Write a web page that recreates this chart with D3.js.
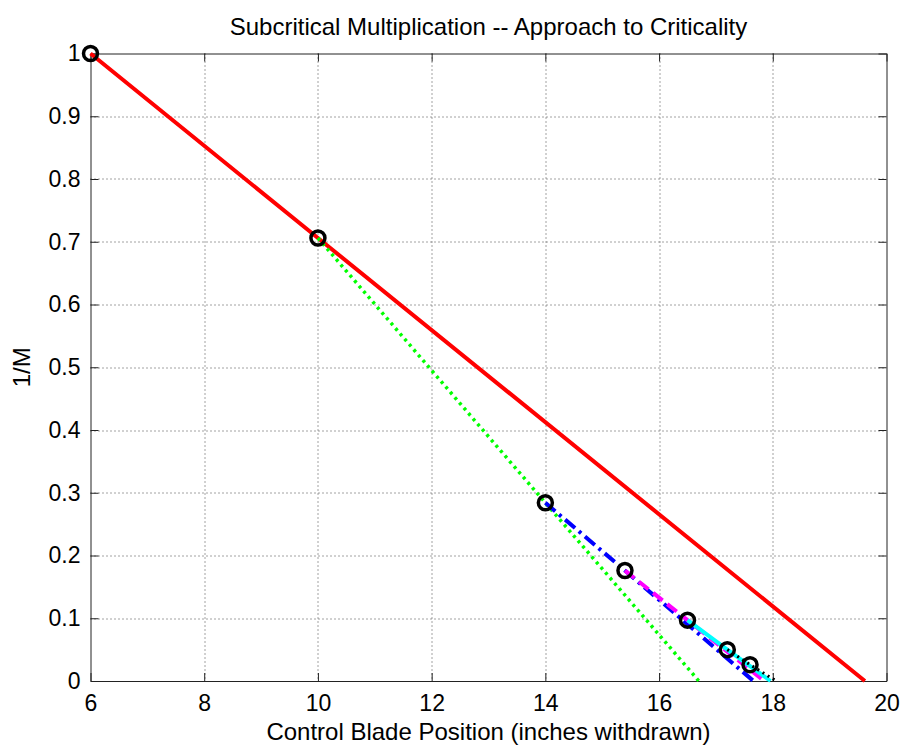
<!DOCTYPE html>
<html>
<head>
<meta charset="utf-8">
<script src="https://cdn.jsdelivr.net/npm/d3@7"></script>
<style>
  body { margin: 0; background: #fff; }
  svg { display: block; }
  .axis text { font-family: "Liberation Sans", Arial, sans-serif; font-size: 23px; fill: #000; }
  .axis path, .axis line { stroke: #222; }
</style>
</head>
<body>
<div id="chart"></div>
<script>
// blade position (inches withdrawn) and measured 1/M
var positions = [6, 10, 14, 15.4, 16.5, 17.2, 17.6];
var inverseM = [1.0, 0.706, 0.284, 0.176, 0.097, 0.050, 0.026];
// estimated critical position from each extrapolation (x where 1/M = 0)
var criticalEstimates = [19.62, 16.7, 17.66, 17.85, 17.96, 18.06];
var xTicks = [6, 8, 10, 12, 14, 16, 18, 20];
var yTicks = [0, 0.1, 0.2, 0.3, 0.4, 0.5, 0.6, 0.7, 0.8, 0.9, 1];

// line style for each extrapolation step (matlab r-, g:, b-., m--, c-, k:)
var lineColors = ["#ff0000", "#00ff00", "#0000ff", "#ff00ff", "#00ffff", "#000000"];
var lineDash = [null, "3,4", "13,5,3,5", "12,6", null, "2,4"];
var lineWidth = [4, 3.5, 4, 4, 4, 3];

var W = 901, H = 749;
var margin = { top: 53.5, right: 14.5, bottom: 68, left: 90.5 };
var width = W - margin.left - margin.right;
var height = H - margin.top - margin.bottom;

var svg = d3.select("#chart").append("svg")
    .attr("width", W)
    .attr("height", H);

var g = svg.append("g").attr("transform", "translate(" + margin.left + "," + margin.top + ")");

var x = d3.scaleLinear().domain([6, 20]).range([0, width]);
var y = d3.scaleLinear().domain([0, 1]).range([height, 0]);

// dotted grid
g.append("g").selectAll("line")
    .data(xTicks.slice(1, -1))
    .enter().append("line")
    .attr("x1", function (d) { return Math.round(x(d)) + 0.5; })
    .attr("x2", function (d) { return Math.round(x(d)) + 0.5; })
    .attr("y1", 0)
    .attr("y2", height)
    .attr("stroke", "#444")
    .attr("stroke-dasharray", "1,3");

g.append("g").selectAll("line")
    .data(yTicks.slice(1, -1))
    .enter().append("line")
    .attr("y1", function (d) { return Math.round(y(d)) + 0.5; })
    .attr("y2", function (d) { return Math.round(y(d)) + 0.5; })
    .attr("x1", 0)
    .attr("x2", width)
    .attr("stroke", "#444")
    .attr("stroke-dasharray", "1,3");

// axes, ticks inside on all four sides
g.append("g")
    .attr("class", "axis")
    .attr("transform", "translate(0," + height + ")")
    .call(d3.axisBottom(x).tickValues(xTicks).tickSizeInner(-8).tickSizeOuter(0).tickPadding(14));

g.append("g")
    .attr("class", "axis")
    .call(d3.axisLeft(y).tickValues(yTicks).tickSizeInner(-8).tickSizeOuter(0).tickPadding(10)
        .tickFormat(function (d) { return d3.format("")(+d.toFixed(1)); }));

g.append("g")
    .attr("class", "axis")
    .call(d3.axisTop(x).tickValues(xTicks).tickSizeInner(-8).tickSizeOuter(0).tickFormat(""));

g.append("g")
    .attr("class", "axis")
    .attr("transform", "translate(" + width + ",0)")
    .call(d3.axisRight(y).tickValues(yTicks).tickSizeInner(-8).tickSizeOuter(0).tickFormat(""));

// extrapolation lines: from each point through the next one down to 1/M = 0
var line = d3.line()
    .x(function (d) { return x(d[0]); })
    .y(function (d) { return y(d[1]); });

var segs = criticalEstimates.map(function (xc, i) {
    return [[positions[i], inverseM[i]], [positions[i + 1], inverseM[i + 1]], [xc, 0]];
});

g.append("g").selectAll("path")
    .data(segs)
    .enter().append("path")
    .attr("d", line)
    .attr("fill", "none")
    .attr("stroke", function (d, i) { return lineColors[i]; })
    .attr("stroke-width", function (d, i) { return lineWidth[i]; })
    .attr("stroke-dasharray", function (d, i) { return lineDash[i]; });

// measured points
g.append("g").selectAll("circle")
    .data(positions)
    .enter().append("circle")
    .attr("cx", function (d) { return x(d); })
    .attr("cy", function (d, i) { return y(inverseM[i]); })
    .attr("r", 7)
    .attr("fill", "none")
    .attr("stroke", "#000")
    .attr("stroke-width", 3.5);

// labels
svg.append("text")
    .attr("x", margin.left + width / 2)
    .attr("y", 35)
    .attr("text-anchor", "middle")
    .attr("font-family", "Liberation Sans, Arial, sans-serif")
    .attr("font-size", 24)
    .text("Subcritical Multiplication -- Approach to Criticality");

svg.append("text")
    .attr("x", margin.left + width / 2)
    .attr("y", 740)
    .attr("text-anchor", "middle")
    .attr("font-family", "Liberation Sans, Arial, sans-serif")
    .attr("font-size", 24)
    .text("Control Blade Position (inches withdrawn)");

svg.append("text")
    .attr("transform", "translate(30," + (margin.top + height / 2) + ") rotate(-90)")
    .attr("text-anchor", "middle")
    .attr("font-family", "Liberation Sans, Arial, sans-serif")
    .attr("font-size", 24)
    .text("1/M");
</script>
</body>
</html>
